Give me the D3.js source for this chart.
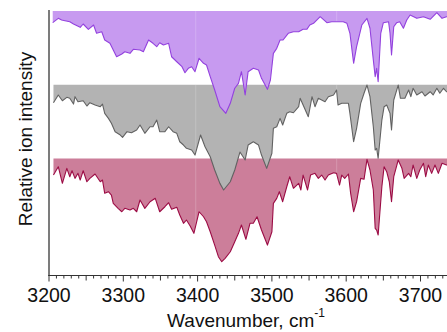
<!DOCTYPE html>
<html>
<head>
<meta charset="utf-8">
<script src="https://cdn.jsdelivr.net/npm/d3@7"></script>
<style>
html,body{margin:0;padding:0;background:#fff;overflow:hidden;}
svg{display:block;}
text{font-family:"Liberation Sans",Arial,Helvetica,sans-serif;fill:#111;}
</style>
</head>
<body>
<svg id="chart" width="447" height="332"></svg>
<script>
// ---------- data (wavenumber in cm^-1, depletion in relative units) ----------
const purpleW = [3205,3212.5,3217,3221.5,3228,3233,3242,3246,3253,3260,3264,3271,3275,3282,3286.5,3291,3298,3302,3309,3313.5,3322.5,3327,3334,3340,3345,3349,3354,3361,3365,3372,3379,3383,3387.5,3392,3396.5,3402,3408,3412,3417,3423,3430,3438,3444,3450,3455,3459,3464,3468,3475,3482,3486,3494,3498,3502,3506.5,3511,3515,3522,3529,3536,3542,3547,3551,3556,3565,3574,3580.5,3587,3596,3601,3605,3610,3614,3621,3628,3632,3636.5,3639,3641,3643,3646.5,3650,3657,3659,3661,3664,3668,3672,3677,3681.5,3686,3695,3704,3713,3722,3729,3735,3745];
const purpleD = [0.157,0.098,0.121,0.130,0.144,0.175,0.220,0.175,0.247,0.189,0.301,0.280,0.392,0.437,0.528,0.619,0.582,0.551,0.573,0.518,0.528,0.551,0.392,0.437,0.483,0.429,0.460,0.437,0.619,0.687,0.754,0.836,0.776,0.754,0.822,0.640,0.708,0.731,0.890,1.071,1.297,1.387,1.251,1.047,0.980,0.822,1.138,0.822,0.776,0.799,0.912,1.061,0.935,0.573,0.505,0.392,0.392,0.301,0.280,0.280,0.247,0.247,0.189,0.166,0.076,0.157,0.144,0.144,0.144,0.166,0.301,0.708,0.483,0.189,0.098,0.233,0.664,0.890,0.776,0.958,0.301,0.157,0.144,0.301,0.596,0.212,0.157,0.144,0.233,0.121,0.053,0.098,0.076,0.111,0.022,0.098,0.076,0.09];

const grayW = [3206,3212.5,3218,3224,3228,3233,3235,3239,3246,3251,3255,3262,3269,3272,3275,3280,3284,3289,3296,3299,3305,3311,3318,3322.5,3329,3336,3340,3345,3349,3356,3361,3367,3372,3376,3381,3385,3392,3396.5,3404,3410,3417,3423,3430,3435,3444,3450,3457,3464,3468,3475,3482,3486,3493,3500,3502,3506.5,3511,3514.5,3520,3524,3529,3536,3538,3542,3549,3554,3558,3562.5,3567,3571.5,3576,3583,3587,3589,3594,3598,3603,3605,3610,3614,3619.5,3624,3628,3632,3636.5,3639,3641,3643,3648,3651,3654.5,3659,3661,3664,3668,3670,3673,3679,3684,3687,3690,3695,3702,3706,3713,3717,3722,3726,3731,3735,3745];
const grayD = [0.243,0.138,0.216,0.170,0.183,0.261,0.161,0.229,0.216,0.288,0.243,0.274,0.297,0.261,0.387,0.455,0.522,0.636,0.681,0.712,0.636,0.650,0.613,0.545,0.658,0.569,0.569,0.478,0.636,0.636,0.569,0.636,0.658,0.772,0.817,0.862,0.885,0.953,0.681,0.840,0.976,1.156,1.337,1.427,1.315,1.156,0.912,1.020,0.817,0.772,0.817,0.953,1.133,0.929,0.590,0.569,0.455,0.545,0.387,0.365,0.379,0.297,0.183,0.274,0.433,0.161,0.297,0.183,0.206,0.229,0.161,0.138,0.071,0.274,0.251,0.251,0.251,0.387,0.772,0.590,0.251,0.115,0.003,0.161,0.569,0.885,0.862,0.997,0.478,0.297,0.274,0.387,0.613,0.206,0.071,0.003,0.183,0.183,0.071,0.161,0.047,0.138,0.094,0.152,0.094,0.138,0.047,0.115,0.047,0.094,0.1];

const crimsonW = [3206,3212.5,3218,3224,3228,3231,3235,3239,3242,3246,3251,3255,3262,3269,3272,3275,3280,3284,3286.5,3293,3298,3302,3309,3313.5,3318,3322.5,3329,3336,3343,3349,3356,3361,3365,3372,3376,3381,3385,3390,3395,3402,3408,3412,3417,3423,3428,3432.5,3437,3444,3450,3455,3459,3465,3470.5,3475,3480,3486,3494,3500,3502,3506.5,3510,3514.5,3520,3524,3529,3536,3539,3542,3548,3552,3558,3562.5,3567,3571.5,3576,3583,3587,3591,3594,3598,3603,3606,3610,3614,3619.5,3624,3628,3632,3636.5,3639,3641,3643,3648,3651,3654.5,3658,3661,3664,3667,3670,3675,3678,3684,3687,3690,3695,3699,3704,3707,3710.5,3715,3719.5,3724,3729,3735,3745];
const crimsonD = [0.224,0.111,0.336,0.133,0.247,0.166,0.269,0.201,0.292,0.166,0.315,0.269,0.210,0.315,0.292,0.472,0.450,0.495,0.608,0.676,0.722,0.676,0.699,0.676,0.722,0.563,0.676,0.586,0.540,0.722,0.654,0.600,0.689,0.662,0.767,0.879,0.834,0.916,1.015,0.722,0.790,0.858,0.993,1.174,1.332,1.400,1.354,1.265,1.129,1.015,0.902,1.096,0.879,0.879,0.790,0.970,1.174,0.993,0.608,0.540,0.450,0.586,0.383,0.247,0.404,0.336,0.427,0.224,0.427,0.224,0.201,0.269,0.224,0.292,0.224,0.193,0.201,0.360,0.224,0.269,0.210,0.472,0.722,0.586,0.269,0.282,0.011,0.156,0.427,0.947,0.970,1.038,0.383,0.111,0.179,0.315,0.586,0.247,0.133,0.020,0.133,0.269,0.201,0.247,0.088,0.269,0.156,0.065,0.247,0.088,0.201,0.088,0.201,0.065,0.088,0.1];

const seams = [3397.5, 3587.2];
const xTickLabels = [3200, 3300, 3400, 3500, 3600, 3700];
const xLabel = "Wavenumber, cm";
const xLabelSup = "-1";
const yLabel = "Relative ion intensity";

// ---------- layout ----------
const svg = d3.select("#chart");
const x0 = 49, axisY = 275.5, topY = 10;
const x = d3.scaleLinear().domain([3200, 3750]).range([x0, x0 + 550 * 0.743]);
const y = d3.scaleLinear().domain([-1.587, 2.015]).range([axisY, topY]);

// drawn bottom trace first so upper traces overlap the lower ones
const traces = [
  {w: crimsonW, d: crimsonD, offset: 0, fill: "#cc7e9a", stroke: "#9c0c45"},
  {w: grayW, d: grayD, offset: 1, fill: "#b3b3b3", stroke: "#626262"},
  {w: purpleW, d: purpleD, offset: 2, fill: "#c79af0", stroke: "#9341de"}
];

const defs = svg.append("defs");
traces.forEach((t, i) => {
  const pts = t.w.map((w, k) => ({w, v: t.offset - t.d[k]}));
  const area = d3.area().x(p => x(p.w)).y0(y(t.offset)).y1(p => y(p.v));
  const line = d3.line().x(p => x(p.w)).y(p => y(p.v));
  const id = "clip" + i;
  defs.append("clipPath").attr("id", id).append("path").attr("d", area(pts));
  svg.append("path").attr("d", area(pts)).attr("fill", t.fill);
  svg.append("g").attr("clip-path", `url(#${id})`)
    .selectAll("line").data(seams).join("line")
    .attr("x1", s => x(s)).attr("x2", s => x(s))
    .attr("y1", y(t.offset)).attr("y2", y(t.offset - 2))
    .attr("stroke", "#ffffff").attr("stroke-opacity", 0.2).attr("stroke-width", 1);
  svg.append("path").attr("d", line(pts)).attr("fill", "none")
    .attr("stroke", t.stroke).attr("stroke-width", 1.1).attr("stroke-linejoin", "round");
});

// y axis line (no ticks)
svg.append("line").attr("x1", x0).attr("x2", x0).attr("y1", topY).attr("y2", axisY)
  .attr("stroke", "#6e6e6e").attr("stroke-width", 1.8);

// x axis
const minor = d3.range(3200, 3751, 10);
const gx = svg.append("g");
gx.append("line").attr("x1", x0 - 0.9).attr("x2", 447).attr("y1", axisY).attr("y2", axisY)
  .attr("stroke", "#333").attr("stroke-width", 1.1);
gx.selectAll("line.tk").data(minor).join("line").attr("class", "tk")
  .attr("x1", d => x(d)).attr("x2", d => x(d))
  .attr("y1", axisY).attr("y2", d => axisY + (d % 100 === 0 ? 6 : d % 50 === 0 ? 5 : 3))
  .attr("stroke", "#333").attr("stroke-width", 1);
gx.selectAll("text").data(xTickLabels).join("text")
  .attr("x", d => x(d)).attr("y", 301.5).attr("text-anchor", "middle")
  .attr("font-size", 19.5).text(d => d);

const xl = svg.append("text").attr("x", 246).attr("y", 326.5).attr("text-anchor", "middle")
  .attr("font-size", 19);
xl.append("tspan").text(xLabel);
xl.append("tspan").attr("font-size", 12).attr("dy", -10).text(xLabelSup);

svg.append("text").attr("transform", "translate(32,139) rotate(-90)")
  .attr("text-anchor", "middle").attr("font-size", 19).text(yLabel);
</script>
</body>
</html>
